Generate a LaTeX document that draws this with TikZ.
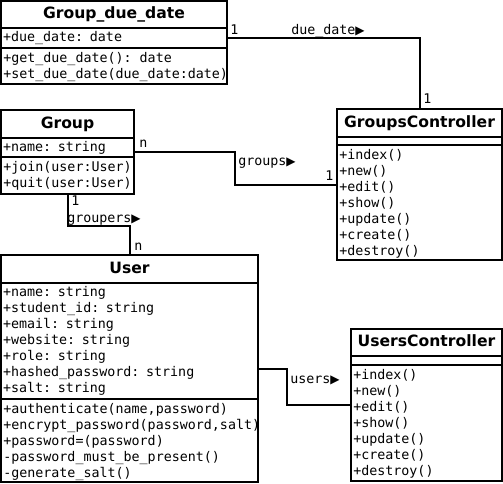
\documentclass[tikz,border=0pt]{standalone}
\usepackage{fontspec}
\setmainfont{DejaVu Sans}
\setmonofont{DejaVu Sans Mono}
\newfontfamily\symbfont{DejaVu Sans}
\usepackage{tikz}

% small direction triangle after a role name
\newcommand{\navtri}{{\symbfont\fontsize{9}{9}\selectfont ▶}}

\begin{document}
\begin{tikzpicture}[x=0.75pt, y=-0.75pt,
    classbox/.style={draw, line width=1.5pt, anchor=north west, inner sep=0pt, outer sep=0pt},
    classname/.style={draw, line width=1.5pt, anchor=north west, inner sep=0pt, outer sep=0pt,
        font=\fontsize{11.7}{14}\selectfont\bfseries, text height=8.5pt, text depth=2.5pt},
    attrs/.style={draw, line width=1.5pt, anchor=north west, inner xsep=1.5pt, inner ysep=0pt,
        outer sep=0pt, align=left, font=\ttfamily\fontsize{10}{12}\selectfont},
    ops/.style={anchor=north west, inner xsep=1.5pt, inner ysep=2.8pt, align=left,
        font=\ttfamily\fontsize{10}{12}\selectfont},
    assoc/.style={line width=1.5pt},
    role/.style={anchor=base west, inner sep=0pt, font=\ttfamily\fontsize{10}{12}\selectfont}]
    \fill[white] (0,0) rectangle (503,483);
    \useasboundingbox (0,0) rectangle (503,483);

    % Group_due_date
    \node[classbox, minimum width=169.5pt, minimum height=62.25pt] (gdd) at (1,1) {};
    \node[classname, minimum width=169.5pt, minimum height=20.25pt] (gddName) at (gdd.north west) {Group\_due\_date};
    \node[attrs, text width=166.5pt, minimum height=15pt] (gddAttr) at (gddName.south west) {+due\_date: date};
    \node[ops] (gddOps) at (gddAttr.south west) {+get\_due\_date(): date\\+set\_due\_date(due\_date:date)};

    % Group
    \node[classbox, minimum width=99.75pt, minimum height=63pt] (group) at (1,110) {};
    \node[classname, minimum width=99.75pt, minimum height=21pt] (groupName) at (group.north west) {Group};
    \node[attrs, text width=96.75pt, minimum height=14.25pt] (groupAttr) at (groupName.south west) {+name: string};
    \node[ops] (groupOps) at (groupAttr.south west) {+join(user:User)\\+quit(user:User)};

    % GroupsController
    \node[classbox, minimum width=123.75pt, minimum height=113.25pt] (gc) at (337,109) {};
    \node[classname, minimum width=123.75pt, minimum height=21pt] (gcName) at (gc.north west) {GroupsController};
    \node[attrs, minimum width=123.75pt, minimum height=6pt, inner xsep=0pt] (gcAttr) at (gcName.south west) {};
    \node[ops] (gcOps) at (gcAttr.south west) {+index()\\+new()\\+edit()\\+show()\\+update()\\+create()\\+destroy()};

    % User
    \node[classbox, minimum width=192.75pt, minimum height=170.25pt] (user) at (1,255) {};
    \node[classname, minimum width=192.75pt, minimum height=21pt] (userName) at (user.north west) {User};
    \node[attrs, text width=189.75pt, minimum height=87pt] (userAttr) at (userName.south west)
        {+name: string\\+student\_id: string\\+email: string\\+website: string\\+role: string\\+hashed\_password: string\\+salt: string};
    \node[ops] (userOps) at (userAttr.south west)
        {+authenticate(name,password)\\+encrypt\_password(password,salt)\\+password=(password)\\-password\_must\_be\_present()\\-generate\_salt()};

    % UsersController
    \node[classbox, minimum width=113.25pt, minimum height=114pt] (uc) at (351,329) {};
    \node[classname, minimum width=113.25pt, minimum height=20.25pt] (ucName) at (uc.north west) {UsersController};
    \node[attrs, minimum width=113.25pt, minimum height=6.75pt, inner xsep=0pt] (ucAttr) at (ucName.south west) {};
    \node[ops] (ucOps) at (ucAttr.south west) {+index()\\+new()\\+edit()\\+show()\\+update()\\+create()\\+destroy()};

    % associations
    \draw[assoc] (gddAttr.east) -| (gc.north);
    \draw[assoc] (group.east) -- ++(101,0) |- (gc.west);
    \draw[assoc] (group.south) -- ++(0,32) -| (user.north);
    \draw[assoc] (user.east) -- ++(29,0) |- (uc.west);

    % roles and multiplicities
    \node[role] (gddMul) at (230,34) {1};
    \node[role] (dueDateRole) at (291,34) {due\_date\navtri};
    \node[role] (gcMulTop) at (423,103) {1};
    \node[role] (groupMul) at (139,147) {n};
    \node[role] (groupsRole) at (238,165) {groups\navtri};
    \node[role] (gcMulLeft) at (325,180) {1};
    \node[role] (groupOne) at (71,205) {1};
    \node[role] (groupersRole) at (67,222) {groupers\navtri};
    \node[role] (userMul) at (134,250) {n};
    \node[role] (usersRole) at (290,383) {users\navtri};
\end{tikzpicture}
\end{document}
